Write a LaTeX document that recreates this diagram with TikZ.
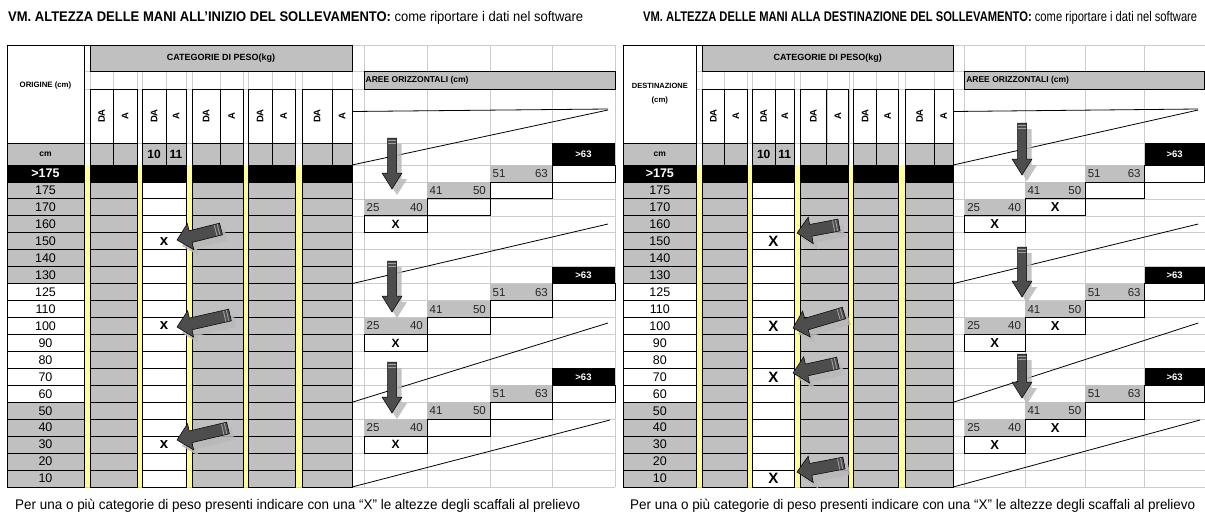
\documentclass[tikz,border=0pt]{standalone}
\usepackage{fontspec}
\usepackage{graphicx}
\setmainfont{Liberation Sans}
\newfontfamily\narrowfont[FakeStretch=0.82]{Liberation Sans}
\usetikzlibrary{calc}

\definecolor{cellgray}{HTML}{C0C0C0}
\definecolor{gapyellow}{HTML}{FFFF99}
\definecolor{sheetgrid}{HTML}{CCCCCC}
\definecolor{darkarrow}{HTML}{4D4D4D}
\definecolor{lightarrow}{HTML}{B8B8B8}

\providecommand{\rowpitch}{16.947}

\tikzset{
  sheetline/.style={draw=sheetgrid, line width=0.6pt},
  cellline/.style={draw=black, line width=0.8pt},
  shelfline/.style={draw=black, line width=0.8pt},
  titletext/.style={anchor=base west, inner sep=0pt, font=\narrowfont\fontsize{14}{16}\selectfont},
  headtext/.style={inner sep=0pt, align=center, font=\bfseries\fontsize{7.8}{14}\selectfont},
  cattext/.style={inner sep=0pt, font=\bfseries\fontsize{9}{10}\selectfont},
  dalabel/.style={inner sep=0pt, rotate=90, font=\bfseries\fontsize{9.5}{10}\selectfont},
  rowtext/.style={inner sep=0pt, font=\fontsize{12.5}{13}\selectfont},
  weighttext/.style={inner sep=0pt, font=\bfseries\fontsize{12}{13}\selectfont},
  areatext/.style={inner sep=0pt, font=\bfseries\fontsize{8.5}{10}\selectfont},
  steptext/.style={inner sep=0pt, text=black!85, font=\fontsize{11.5}{12}\selectfont},
  stepbig/.style={inner sep=0pt, text=white, font=\bfseries\fontsize{9.5}{10}\selectfont},
  tablex/.style={inner sep=0pt, font=\bfseries\fontsize{15}{16}\selectfont},
  areax/.style={inner sep=0pt, font=\bfseries\fontsize{13}{14}\selectfont},
  arrowbody/.style={fill=darkarrow, draw=black, line width=0.5pt},
  arrowshadow/.style={fill=lightarrow, opacity=0.85},
  arrowrib/.style={draw=gray!75, line width=0.9pt}
}

% one half of the sheet: height table, weight columns and horizontal areas
\newcommand{\liftpanel}[1]{%
  % spreadsheet grid
  \foreach \gx in {7,84,90,113,137,142,166,186,192,220,243,248,272,295,302,332,352,364,427,490,552,615}
    \draw[sheetline] (\gx,45) -- (\gx,487);
  \foreach \gy in {45,71,89,143}
    \draw[sheetline] (7,\gy) -- (615,\gy);
  \foreach \k in {0,...,19}
    \draw[sheetline] (7,{165+\k*\rowpitch}) -- (615,{165+\k*\rowpitch});
  % header
  \draw[cellline] (7,45) -- (352,45);
  \filldraw[cellline, fill=white] (7,45) rectangle (84,143);
  \filldraw[cellline, fill=cellgray] (90,45) rectangle (352,71);
  \node[cattext] (#1cat) at (221,58) {CATEGORIE DI PESO(kg)};
  \foreach \ga/\gb/\gc [count=\g] in {90/113/137,142/166/186,192/220/243,248/272/295,302/332/352} {
    \draw[cellline] (\ga,89) rectangle (\gb,143) (\gb,89) rectangle (\gc,143);
    \node[dalabel] (#1da\g) at ({(\ga+\gb)/2},116) {DA};
    \node[dalabel] (#1a\g) at ({(\gb+\gc)/2},116) {A};
    \filldraw[cellline, fill=cellgray] (\ga,143) rectangle (\gb,165) (\gb,143) rectangle (\gc,165);
  }
  \filldraw[cellline, fill=cellgray] (7,143) rectangle (84,165);
  \node[areatext] (#1cm) at (45.5,154) {cm};
  \node[weighttext] (#1w10) at (154,154) {10};
  \node[weighttext] (#1w11) at (176,154) {11};
  % yellow separators
  \foreach \ga/\gb in {84/90,137/142,186/192,243/248,295/302}
    \fill[gapyellow] (\ga,165) rectangle (\gb,487);
  % height rows
  \foreach \lab [count=\k from 0] in {>175,175,170,160,150,140,130,125,110,100,90,80,70,60,50,40,30,20,10} {
    \pgfmathsetmacro\ya{165+\k*\rowpitch}
    \pgfmathsetmacro\yb{165+(\k+1)*\rowpitch}
    \ifnum\k=0
      \def\labfill{black}\def\labink{white}\def\labweight{\bfseries}\def\sidefill{black}\def\midfill{black}
    \else
      \def\labink{black}\def\labweight{}\def\sidefill{cellgray}\def\midfill{white}
      \ifnum\k<7 \def\labfill{cellgray}\else\ifnum\k<14 \def\labfill{white}\else\def\labfill{cellgray}\fi\fi
    \fi
    \filldraw[cellline, fill=\labfill] (7,\ya) rectangle (84,\yb);
    \node[rowtext, text=\labink] (#1row\k) at (45.5,{(\ya+\yb)/2}) {\labweight\lab};
    \foreach \ga/\gc in {90/137,192/243,248/295,302/352}
      \filldraw[cellline, fill=\sidefill] (\ga,\ya) rectangle (\gc,\yb);
    \filldraw[cellline, fill=\midfill] (142,\ya) rectangle (186,\yb);
  }
  \foreach \k in {7,14}
    \foreach \ga/\gc in {7/84,90/137,142/186,192/243,248/295,302/352}
      \draw[cellline, line width=1.5pt] (\ga,{165+\k*\rowpitch}) -- (\gc,{165+\k*\rowpitch});
  % horizontal areas
  \filldraw[cellline, fill=cellgray] (364,71) rectangle (615,89);
  \node[areatext, anchor=west] (#1area) at (365.5,80) {AREE ORIZZONTALI (cm)};
  \draw[shelfline] (352,111.5) -- (608,109);
  \draw[shelfline] (352,165) -- (608,110);
  \draw[shelfline] (352,{165+7*\rowpitch}) -- (608,224);
  \draw[shelfline] (352,{165+14*\rowpitch}) -- (608,323);
  \draw[shelfline] (352,487) -- (610,420);
}

% staircase of the four horizontal areas
\newcommand{\stepblock}[4]{% #1 top of >63, #2 its bottom, #3 name, #4 mark in the 41-50 box
  \pgfmathsetmacro\syt{#1}
  \pgfmathsetmacro\sya{#2}
  \pgfmathsetmacro\syb{#2+\rowpitch}
  \pgfmathsetmacro\syc{#2+2*\rowpitch}
  \pgfmathsetmacro\syd{#2+3*\rowpitch}
  \pgfmathsetmacro\sye{#2+4*\rowpitch}
  \fill[black] (552,\syt) rectangle (615,\sya);
  \node[stepbig] (#3big) at (583.5,{(\syt+\sya)/2}) {>63};
  \fill[cellgray] (490,\sya) rectangle (552,\syb);
  \node[steptext, anchor=west] (#3lo4) at (492.5,{(\sya+\syb)/2}) {51};
  \node[steptext, anchor=east] (#3hi4) at (548,{(\sya+\syb)/2}) {63};
  \draw[cellline] (552,\sya) rectangle (615,\syb);
  \fill[cellgray] (427,\syb) rectangle (490,\syc);
  \node[steptext, anchor=west] (#3lo3) at (429.5,{(\syb+\syc)/2}) {41};
  \node[steptext, anchor=east] (#3hi3) at (486,{(\syb+\syc)/2}) {50};
  \draw[cellline] (490,\syb) rectangle (552,\syc);
  \fill[cellgray] (364,\syc) rectangle (427,\syd);
  \node[steptext, anchor=west] (#3lo2) at (366.5,{(\syc+\syd)/2}) {25};
  \node[steptext, anchor=east] (#3hi2) at (423,{(\syc+\syd)/2}) {40};
  \draw[cellline] (427,\syc) rectangle (490,\syd);
  \node[areax] (#3x2) at (458.5,{(\syc+\syd)/2}) {#4};
  \draw[cellline] (364,\syd) rectangle (427,\sye);
  \node[areax] (#3x1) at (395.5,{(\syd+\sye)/2}) {X};
}

% thick grey arrow with ribbed tail and a soft shadow
\newcommand{\blockarrow}[6]{% #1 tail, #2 tip, #3 name, #4 half shaft, #5 half head, #6 head length
  \coordinate (#3t) at (#1);
  \coordinate (#3h) at (#2);
  \coordinate (#3b) at ($(#3h)!#6pt!(#3t)$);
  \coordinate (#3p1) at ($(#3t)!#4pt!90:(#3h)$);
  \coordinate (#3p2) at ($(#3b)!#4pt!90:(#3h)$);
  \coordinate (#3p3) at ($(#3b)!#5pt!90:(#3h)$);
  \coordinate (#3p5) at ($(#3b)!#5pt!-90:(#3h)$);
  \coordinate (#3p6) at ($(#3b)!#4pt!-90:(#3h)$);
  \coordinate (#3p7) at ($(#3t)!#4pt!-90:(#3h)$);
  \coordinate (#3r1) at ($(#3t)!2.5pt!(#3h)$);
  \coordinate (#3r2) at ($(#3t)!5.5pt!(#3h)$);
  \begin{scope}[transform canvas={shift={(5pt,-6pt)}}]
    \fill[arrowshadow] (#3p1) -- (#3p2) -- (#3p3) -- (#3h) -- (#3p5) -- (#3p6) -- (#3p7) -- cycle;
  \end{scope}
  \filldraw[arrowbody] (#3p1) -- (#3p2) -- (#3p3) -- (#3h) -- (#3p5) -- (#3p6) -- (#3p7) -- cycle;
  \draw[arrowrib] ($(#3r1)!#4pt-0.5pt!90:(#3h)$) -- ($(#3r1)!#4pt-0.5pt!-90:(#3h)$);
  \draw[arrowrib] ($(#3r2)!#4pt-0.5pt!90:(#3h)$) -- ($(#3r2)!#4pt-0.5pt!-90:(#3h)$);
}

\begin{document}
\begin{tikzpicture}[x=1pt, y=-1pt]
\useasboundingbox (0,0) rectangle (1205,519);

% titles
\node[titletext] (titleleft) at (8,21.7) {\resizebox{575pt}{\height}{\bfseries VM. ALTEZZA DELLE MANI ALL’INIZIO DEL SOLLEVAMENTO:\mdseries{} come riportare i dati nel software}};
\node[titletext] (titleright) at (643,21.7) {\resizebox{554pt}{\height}{\bfseries VM. ALTEZZA DELLE MANI ALLA DESTINAZIONE DEL SOLLEVAMENTO:\mdseries{} come riportare i dati nel software}};

% origin of the lift
\begin{scope}
  \liftpanel{o}
  \node[headtext] (ohead) at (45.5,85) {ORIGINE (cm)};
  \node[tablex] (ox150) at (164,{165+4.5*\rowpitch}) {x};
  \node[tablex] (ox100) at (164,{165+9.5*\rowpitch}) {x};
  \node[tablex] (ox30) at (164,{165+16.5*\rowpitch}) {x};
  \begin{scope}[areax/.style={inner sep=0pt, font=\bfseries\fontsize{12}{13}\selectfont}]
    \stepblock{143}{165}{os1}{}
    \stepblock{165+6*\rowpitch}{165+7*\rowpitch}{os2}{}
    \stepblock{165+12*\rowpitch}{165+13*\rowpitch}{os3}{}
  \end{scope}
\end{scope}

% destination of the lift
\begin{scope}[xshift=616.3pt, xscale=0.957]
  \liftpanel{d}
  \node[headtext] (dhead) at (45.5,94) {\fontsize{7.5}{14}\selectfont DESTINAZIONE\\(cm)};
  \node[tablex] (dx150) at (164,{165+4.5*\rowpitch}) {X};
  \node[tablex] (dx100) at (164,{165+9.5*\rowpitch}) {X};
  \node[tablex] (dx70) at (164,{165+12.5*\rowpitch}) {X};
  \node[tablex] (dx10) at (164,{165+18.5*\rowpitch}) {X};
  \stepblock{143}{165}{ds1}{X}
  \stepblock{165+6*\rowpitch}{165+7*\rowpitch}{ds2}{X}
  \stepblock{165+12*\rowpitch}{165+13*\rowpitch}{ds3}{X}
\end{scope}

% arrows pointing at the marked heights
\blockarrow{221,229}{177,240}{oa1}{6}{13.5}{14}
\blockarrow{230,315}{177,327}{oa2}{6}{13.5}{14}
\blockarrow{228,428}{177,440}{oa3}{6}{13.5}{14}
\blockarrow{839,225}{797,233}{da1}{6}{13.5}{14}
\blockarrow{844,313}{793,328}{da2}{6}{13.5}{14}
\blockarrow{838,363}{793,373}{da3}{6}{13.5}{14}
\blockarrow{844,463}{797,472}{da4}{6}{13.5}{14}
% arrows pointing at the horizontal areas
\blockarrow{392,138}{392,189}{ov1}{4.5}{10}{16}
\blockarrow{392,261}{392,312}{ov2}{4.5}{10}{16}
\blockarrow{392,362}{392,413}{ov3}{4.5}{10}{16}
\blockarrow{1022,123}{1022,175}{dv1}{4.5}{10}{16}
\blockarrow{1022,247}{1022,297}{dv2}{4.5}{10}{16}
\blockarrow{1022,354}{1022,398}{dv3}{4.5}{10}{16}

% notes
\node[titletext] (noteleft) at (15,509) {\resizebox{565pt}{\height}{Per una o più categorie di peso presenti indicare con una “X” le altezze degli scaffali al prelievo}};
\node[titletext] (noteright) at (630,509) {\resizebox{565pt}{\height}{Per una o più categorie di peso presenti indicare con una “X” le altezze degli scaffali al prelievo}};
\end{tikzpicture}
\end{document}
